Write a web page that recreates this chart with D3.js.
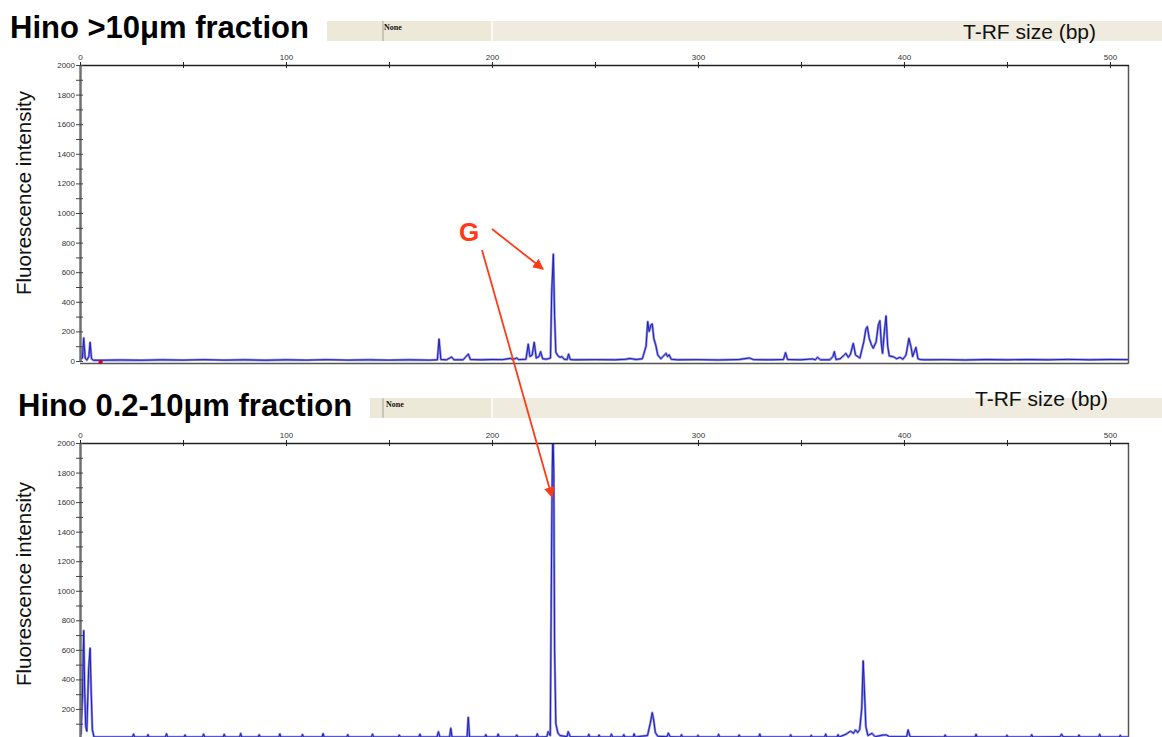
<!DOCTYPE html>
<html>
<head>
<meta charset="utf-8">
<script src="https://cdn.jsdelivr.net/npm/d3@7/dist/d3.min.js"></script>
<style>
  html, body { margin: 0; padding: 0; background: #fff; }
  svg { display: block; }
</style>
</head>
<body>
<svg id="chart" width="1162" height="737"></svg>
<script>
// Panel titles and labels
const panelTitles = ["Hino >10\u03bcm fraction", "Hino 0.2-10\u03bcm fraction"];
const xAxisTitle = "T-RF size (bp)";
const yAxisTitle = "Fluorescence intensity";
const headerTag = "None";
const peakTag = "G";

// Tick values
const xTicks = [0, 50, 100, 150, 200, 250, 300, 350, 400, 450, 500];
const xLabels = [0, 100, 200, 300, 400, 500];
const yTicks = [0, 100, 200, 300, 400, 500, 600, 700, 800, 900, 1000, 1100, 1200, 1300, 1400, 1500, 1600, 1700, 1800, 1900, 2000];
const yLabels = [0, 200, 400, 600, 800, 1000, 1200, 1400, 1600, 1800, 2000];

// Electropherogram of the >10 um fraction: fragment size (bp) and intensity
const sizeTop = [
  -1, 0, 0.4, 1.2, 1.8, 2.5, 3.3, 4.3, 4.9, 5.6, 6.5,
  10, 20, 30, 40, 50, 60, 70, 80, 90, 100, 110, 120, 130, 140, 150, 160, 170,
  173.5, 174.3, 175.2, 178, 180.4, 181.5, 186, 188.5, 189.5,
  195, 200, 205, 209, 210, 212, 213,
  216.5, 217.6, 218.4, 219.5, 220.5, 221.5, 222.8, 223.6, 224.6, 226.5, 228.4,
  229, 229.8, 230.4, 231, 232, 233, 234, 235, 236.5, 237.2, 238,
  240, 250, 260, 265, 267, 270, 273,
  274.8, 275.6, 276.3, 277.2, 277.8, 278.6, 279.5, 280.5, 282,
  284.5, 285.2, 286, 287,
  290, 300, 310, 320, 325, 327, 335,
  341.5, 342.5, 343.5,
  350, 355.6, 357, 358, 359.5, 364, 365.5, 366.2, 367, 369, 371, 371.8, 373, 374, 375.4, 376.5, 378.6,
  380.5, 381.5, 382.2, 383.2, 384.2, 385.1, 386.5, 387.5, 388.3, 389, 389.6, 390.5, 391.3, 392.1, 392.9,
  394.8, 396.5, 398, 399.5, 401, 402.4, 403.5, 404.2, 405, 405.8, 406.8, 408,
  410, 420, 430, 440, 450, 460, 470, 480, 490, 500, 509
];
const intensityTop = [
  0, 90, 15, 20, 155, 20, 6, 30, 126, 15, 5,
  5, 7, 5, 8, 6, 9, 6, 8, 5, 8, 6, 9, 6, 8, 6, 8, 6,
  8, 148, 10, 8, 27, 8, 8, 47, 10,
  8, 10, 9, 18, 10, 20, 9,
  12, 113, 30, 40, 126, 20, 30, 63, 15, 12, 20,
  470, 721, 300, 60, 35, 25, 30, 12, 10, 47, 10,
  8, 9, 8, 12, 17, 10, 15,
  100, 266, 200, 245, 250, 150, 108, 40, 15,
  52, 30, 42, 12,
  8, 9, 7, 10, 20, 9, 8,
  10, 56, 10,
  8, 14, 8, 25, 8, 8, 30, 63, 10, 15, 40, 52, 25, 45, 119, 40, 20,
  130, 215, 232, 150, 110, 86, 130, 240, 272, 120, 52, 200, 304, 100, 34,
  29, 15, 25, 12, 40, 153, 90, 30, 60, 92, 15, 10,
  8, 9, 7, 10, 8, 10, 8, 11, 8, 10, 9
];

// Electropherogram of the 0.2-10 um fraction: fragment size (bp) and intensity
const sizeBottom = [
  -1, 0, 0.5, 1.2, 1.8, 2.3, 2.8, 3.3, 4.2, 4.9, 5.4, 6, 6.8,
  15, 25.5, 26, 26.5, 32.5, 33, 33.5, 41.5, 42, 42.5, 50.5, 51, 51.5, 59.5, 60, 60.5,
  69.5, 70, 70.5, 77.5, 78, 78.5, 86.5, 87, 87.5, 96.5, 97, 97.5, 107.5, 108, 108.5,
  117.5, 118, 118.5, 129.5, 130, 130.5, 141.5, 142, 142.5, 154.5, 155, 155.5, 164.5, 165, 165.5,
  173.3, 174, 174.7, 179.4, 180, 180.6, 187.9, 188.5, 189.1,
  196.5, 197, 197.5, 202.5, 203, 203.5, 211.5, 212, 212.5, 221.5, 222, 222.5,
  226.6, 227.3, 228.3,
  229, 229.3, 229.6, 230, 230.4, 231, 232, 233, 236.4, 237, 238,
  246.5, 247, 247.5, 251.5, 252, 252.5, 257.5, 258, 258.5, 263.5, 264, 264.5, 268.5, 269, 269.5,
  275.5, 276.8, 277.8, 278.5, 279.3, 280.5, 285, 285.6, 286.5,
  291.5, 292, 292.5, 299.5, 300, 300.5, 309.5, 310, 310.5, 319.5, 320, 320.5, 329.5, 330, 330.5,
  344.5, 345, 345.5, 354.5, 355, 355.5, 361.5, 362, 362.5, 367.5, 368, 368.5,
  372, 374, 375.5, 376.5, 377.5, 378.5, 379.5, 380.2, 380.8, 381.5, 382.5, 384.5, 386,
  390, 391.5, 393, 401.3, 402, 403,
  419.5, 420, 420.5, 434.5, 435, 435.5, 449.5, 450, 450.5, 461.5, 462, 462.5,
  475.8, 476.5, 477.2, 484.5, 485, 485.5, 494.5, 495, 495.5, 504.5, 505, 505.5, 509
];
const intensityBottom = [
  0, 148, 30, 295, 730, 300, 80, 50, 470, 611, 329, 60, 10,
  10, 10, 30, 10, 10, 26, 10, 10, 32, 10, 10, 24, 10, 10, 30, 10,
  10, 28, 10, 10, 34, 10, 10, 25, 10, 10, 31, 10, 10, 27, 10,
  10, 33, 10, 10, 26, 10, 10, 30, 10, 10, 24, 10, 10, 29, 10,
  10, 46, 10, 10, 69, 10, 10, 143, 10,
  10, 26, 10, 10, 30, 10, 10, 24, 10, 10, 32, 10,
  12, 46, 20,
  1400, 1835, 2100, 1800, 600, 100, 37, 20, 12, 46, 12,
  10, 28, 10, 10, 24, 10, 10, 30, 10, 10, 26, 10, 10, 32, 10,
  20, 100, 175, 125, 40, 15, 12, 37, 12,
  10, 26, 10, 10, 22, 10, 10, 28, 10, 10, 24, 10, 10, 30, 10,
  10, 25, 10, 10, 22, 10, 10, 30, 10, 10, 26, 10,
  30, 50, 35, 58, 40, 60, 200, 525, 329, 80, 20, 35, 12,
  24, 24, 12, 12, 58, 12,
  10, 24, 10, 10, 28, 10, 10, 22, 10, 10, 26, 10,
  12, 30, 12, 10, 24, 10, 10, 28, 10, 10, 22, 10, 10
];

const W = 1162, H = 737;
const svg = d3.select("#chart");
svg.append("rect").attr("width", W).attr("height", H).attr("fill", "#fff");

const x = d3.scaleLinear().domain([0, 509]).range([80, 1128.5]);

const panels = [
  {
    title: panelTitles[0], titleX: 10, titleY: 38,
    barX: 327, barY: 21, barH: 20, tagX: 384, divX: 383, div2X: 492,
    xtX: 963, xtY: 39,
    yTop: 65, yZero: 361, bottomBorder: 363.5,
    ylabY: 193,
    sizes: sizeTop, values: intensityTop
  },
  {
    title: panelTitles[1], titleX: 18, titleY: 416,
    barX: 370, barY: 398, barH: 20, tagX: 386, divX: 383, div2X: 492,
    xtX: 975, xtY: 406,
    yTop: 443, yZero: 738.5, bottomBorder: null,
    ylabY: 584,
    sizes: sizeBottom, values: intensityBottom
  }
];

panels.forEach((p, i) => {
  const g = svg.append("g");
  const y = d3.scaleLinear().domain([0, 2000]).range([p.yZero, p.yTop]);

  // header strip
  g.append("rect").attr("x", p.barX).attr("y", p.barY).attr("width", W - p.barX).attr("height", p.barH)
    .attr("fill", "#ece9d8");
  g.append("rect").attr("x", p.div2X).attr("y", p.barY).attr("width", W - p.div2X).attr("height", p.barH)
    .attr("fill", "#efebde");
  g.append("line").attr("x1", p.divX).attr("x2", p.divX).attr("y1", p.barY).attr("y2", p.barY + p.barH)
    .attr("stroke", "#a8a69a").attr("stroke-width", 1);
  g.append("line").attr("x1", p.div2X).attr("x2", p.div2X).attr("y1", p.barY).attr("y2", p.barY + p.barH)
    .attr("stroke", "#ffffff").attr("stroke-width", 1.5);
  g.append("text").attr("x", p.tagX).attr("y", p.barY + 9)
    .attr("font-family", "Liberation Serif, serif").attr("font-weight", "bold").attr("font-size", 8)
    .attr("fill", "#111").text(headerTag);
  g.append("text").attr("x", p.xtX).attr("y", p.xtY)
    .attr("font-family", "Liberation Sans, Arial, sans-serif").attr("font-size", 21)
    .attr("fill", "#111").text(xAxisTitle);

  // panel title
  g.append("text").attr("x", p.titleX).attr("y", p.titleY)
    .attr("font-family", "Liberation Sans, Arial, sans-serif").attr("font-weight", "bold")
    .attr("font-size", 31).attr("fill", "#000").text(p.title);

  // y title
  g.append("text")
    .attr("transform", `translate(${31},${p.ylabY}) rotate(-90)`)
    .attr("text-anchor", "middle")
    .attr("font-family", "Liberation Sans, Arial, sans-serif").attr("font-size", 20.5)
    .attr("fill", "#111").text(yAxisTitle);

  // frame: right and bottom
  g.append("line").attr("x1", x.range()[1]).attr("x2", x.range()[1])
    .attr("y1", p.yTop).attr("y2", p.bottomBorder != null ? p.bottomBorder : H + 5)
    .attr("stroke", "#555").attr("stroke-width", 1.5);
  if (p.bottomBorder != null) {
    g.append("line").attr("x1", x.range()[0]).attr("x2", x.range()[1])
      .attr("y1", p.bottomBorder).attr("y2", p.bottomBorder)
      .attr("stroke", "#555").attr("stroke-width", 1.5);
  }

  // trace, clipped to plot area
  const clipId = "clip" + i;
  svg.append("defs").append("clipPath").attr("id", clipId)
    .append("rect").attr("x", x.range()[0]).attr("y", p.yTop)
    .attr("width", x.range()[1] - x.range()[0]).attr("height", p.yZero - p.yTop + 4);
  const pts = p.sizes.map((s, k) => [s, p.values[k]]);
  const line = d3.line().x(d => x(d[0])).y(d => y(d[1]));
  const tg = g.append("g").attr("clip-path", `url(#${clipId})`);
  tg.append("path").attr("d", line(pts)).attr("fill", "none")
    .attr("stroke", "#8a8ae6").attr("stroke-width", 2.4).attr("stroke-linejoin", "round");
  tg.append("path").attr("d", line(pts)).attr("fill", "none")
    .attr("stroke", "#1f1fb4").attr("stroke-width", 1).attr("stroke-linejoin", "round");

  // top axis
  const xa = g.append("g").attr("transform", `translate(0,${p.yTop})`)
    .call(d3.axisTop(x).tickValues(xTicks).tickSizeOuter(0)
      .tickFormat(d => xLabels.includes(d) ? d : ""));
  xa.select(".domain").attr("stroke", "#222").attr("stroke-width", 1.3);
  xa.selectAll(".tick line").attr("y1", 3).attr("y2", -3).attr("stroke", "#222").attr("stroke-width", 1);
  xa.selectAll(".tick text").attr("y", -5).attr("font-family", "Liberation Sans, Arial, sans-serif")
    .attr("font-size", 8).attr("fill", "#333");

  // left axis
  const ya = g.append("g").attr("transform", `translate(${x.range()[0]},0)`)
    .call(d3.axisLeft(y).tickValues(yTicks).tickSizeOuter(0)
      .tickFormat(d => yLabels.includes(d) ? d : ""));
  ya.select(".domain").attr("stroke", "#707070").attr("stroke-width", 2.5);
  ya.selectAll(".tick line").attr("x1", -4).attr("x2", 3).attr("stroke", "#444").attr("stroke-width", 1);
  ya.selectAll(".tick text").attr("x", -5).attr("font-family", "Liberation Sans, Arial, sans-serif")
    .attr("font-size", 8).attr("fill", "#333");

  // size-standard marker at the start of the trace
  if (i === 0) {
    g.append("rect").attr("x", x(10) - 2).attr("y", y(0) - 1).attr("width", 4).attr("height", 4)
      .attr("fill", "#b01030");
  }
});

// annotation: G peak arrows
const red = "#ff3a17";
const defs = svg.append("defs");
defs.append("marker").attr("id", "arrowhead").attr("viewBox", "0 0 10 10")
  .attr("refX", 9).attr("refY", 5).attr("markerWidth", 6).attr("markerHeight", 6)
  .attr("markerUnits", "strokeWidth").attr("orient", "auto")
  .append("path").attr("d", "M0,0 L10,5 L0,10 z").attr("fill", red);

svg.append("text").attr("x", 469).attr("y", 241).attr("text-anchor", "middle")
  .attr("font-family", "Liberation Sans, Arial, sans-serif").attr("font-weight", "bold")
  .attr("font-size", 26).attr("fill", red).text(peakTag);

svg.append("line").attr("x1", 492).attr("y1", 229).attr("x2", 543).attr("y2", 269)
  .attr("stroke", red).attr("stroke-width", 1.8).attr("marker-end", "url(#arrowhead)");
svg.append("line").attr("x1", 482).attr("y1", 250).attr("x2", 552).attr("y2", 497)
  .attr("stroke", red).attr("stroke-width", 1.8).attr("marker-end", "url(#arrowhead)");
</script>
</body>
</html>
